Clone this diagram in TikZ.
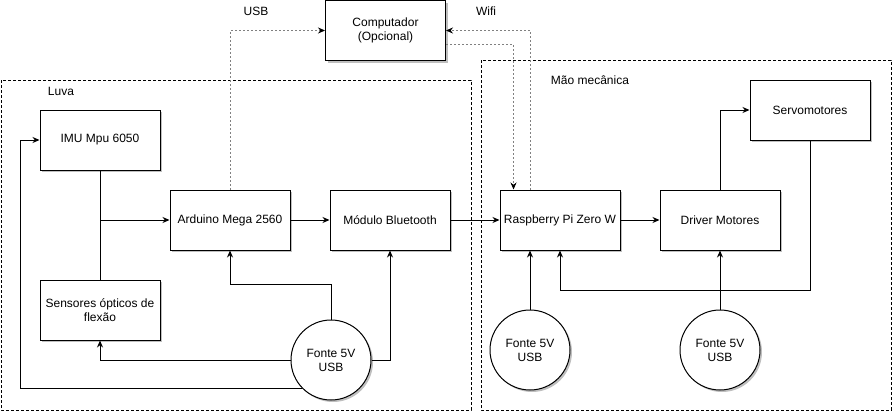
\documentclass[tikz,border=0pt]{standalone}
\usepackage{fontspec}
\setmainfont{Liberation Sans}
\usetikzlibrary{arrows.meta,shadows}
\begin{document}
\begin{tikzpicture}[
x=1pt, y=-1pt,
font=\fontsize{12}{14}\selectfont,
bloco/.style={rectangle, draw=black, fill=white, line width=1pt, minimum width=120pt, minimum height=60pt, inner sep=0pt, align=center, drop shadow={shadow xshift=2pt, shadow yshift=-2pt, fill=black!25, opacity=1}},
fonte/.style={circle, draw=black, fill=white, line width=1pt, minimum size=80pt, inner sep=0pt, align=center, drop shadow={shadow xshift=2pt, shadow yshift=-2pt, fill=black!25, opacity=1}},
grupo/.style={draw=black, dash pattern=on 3pt off 2pt, line width=0.8pt},
liga/.style={draw=black, line width=1pt, -{Stealth[length=7pt, width=6pt]}},
fio/.style={draw=black, line width=1pt},
rede/.style={draw=black!50, dash pattern=on 2pt off 2pt, line width=0.8pt, -{Stealth[length=7pt, width=6pt, black]}},
]
\useasboundingbox (0,0) rectangle (894,415);
% grupos
\draw[grupo] (1,80) rectangle (471,410);
\draw[grupo] (481,60) rectangle (891,410);
\node (luva) at (61,91) {Luva};
\node (mao) at (590,80) {Mão mecânica};
\node (usb) at (256,11) {USB};
\node (wifi) at (486,11) {Wifi};
% luva
\node[bloco] (computador) at (385.5,30.5) {Computador\\(Opcional)};
\node[bloco] (imu) at (100,140) {IMU Mpu 6050};
\node[bloco] (arduino) at (230,220) {Arduino Mega 2560};
\node[bloco] (bluetooth) at (390,220) {Módulo Bluetooth};
\node[bloco] (sensores) at (100,310) {Sensores ópticos de\\flexão};
\node[fonte] (fonteLuva) at (331,360) {Fonte 5V\\USB};
% mao mecanica
\node[bloco] (raspberry) at (560,220) {Raspberry Pi Zero W};
\node[bloco] (driver) at (720,220) {Driver Motores};
\node[bloco] (servos) at (810,110) {Servomotores};
\node[fonte] (fonteRasp) at (530,350) {Fonte 5V\\USB};
\node[fonte] (fonteDriver) at (720,350) {Fonte 5V\\USB};
% ligacoes
\draw[liga] (imu.south) |- (arduino.west);
\draw[fio] (sensores.north) -- (sensores.north |- arduino.west);
\draw[liga] (arduino) -- (bluetooth);
\draw[liga] (bluetooth) -- (raspberry);
\draw[liga] (raspberry) -- (driver);
\draw[liga] (driver.north) |- (servos.west);
\draw[liga] (servos.south) -- ++(0,150) -| (raspberry.south);
\draw[liga] (fonteRasp.north) -- (fonteRasp.north |- raspberry.south);
\draw[liga] (fonteDriver.north) -- (driver.south);
\draw[liga] (fonteLuva.north) -- ++(0,-35) -| (arduino.south);
\draw[liga] (fonteLuva.east) -| (bluetooth.south);
\draw[liga] (fonteLuva.west) -| (sensores.south);
\draw[liga] (fonteLuva.225) -| ([xshift=-19pt]imu.west) -- (imu.west);
% usb e wifi
\draw[rede] (arduino.north) |- (computador.west);
\draw[rede] ([xshift=31pt]raspberry.north west) |- (computador.east);
\draw[rede] ([yshift=-14pt]computador.east) -| ([xshift=14pt]raspberry.north west);
\end{tikzpicture}
\end{document}
